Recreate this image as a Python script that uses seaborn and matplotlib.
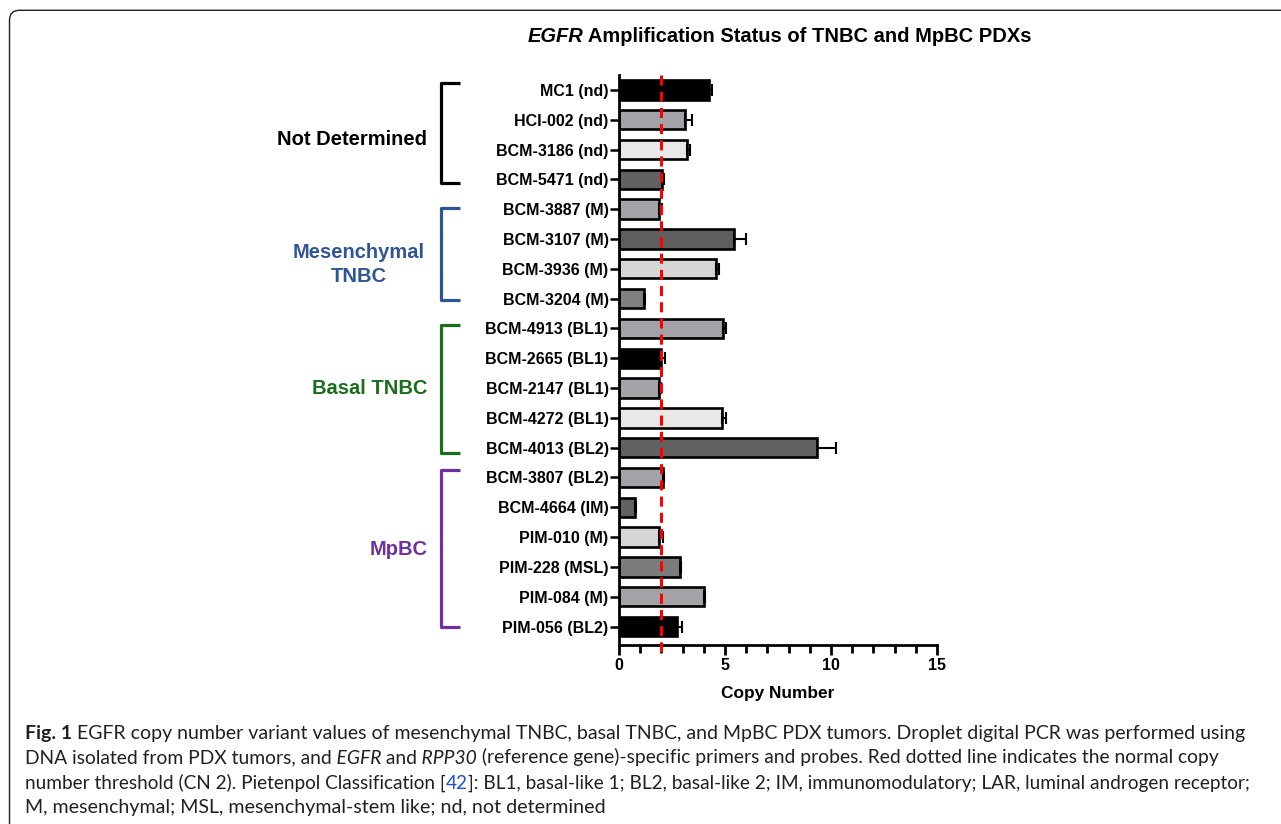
import numpy as np
import pandas as pd
import matplotlib
matplotlib.use('Agg')
import matplotlib.pyplot as plt
import matplotlib.transforms as mtransforms
from matplotlib.patches import FancyBboxPatch
import seaborn as sns

# Datos
samples = ['MC1 (nd)', 'HCI-002 (nd)', 'BCM-3186 (nd)', 'BCM-5471 (nd)',
           'BCM-3887 (M)', 'BCM-3107 (M)', 'BCM-3936 (M)', 'BCM-3204 (M)',
           'BCM-4913 (BL1)', 'BCM-2665 (BL1)', 'BCM-2147 (BL1)', 'BCM-4272 (BL1)',
           'BCM-4013 (BL2)', 'BCM-3807 (BL2)', 'BCM-4664 (IM)', 'PIM-010 (M)',
           'PIM-228 (MSL)', 'PIM-084 (M)', 'PIM-056 (BL2)']
copy_number = [4.24, 3.10, 3.22, 2.04, 1.91, 5.42, 4.59, 1.18,
               4.92, 1.96, 1.88, 4.84, 9.35, 2.07, 0.74, 1.91,
               2.86, 4.01, 2.75]
sem = [0.14, 0.33, 0.13, 0.09, 0.12, 0.55, 0.12, 0.05,
       0.12, 0.19, 0.08, 0.19, 0.87, 0.05, 0.07, 0.16,
       0.05, 0.04, 0.20]
bar_colors = ['#000000', '#a2a2a8', '#e8e8e8', '#616161',
              '#a2a2a8', '#5e5e5e', '#d6d6d6', '#808080',
              '#a2a2a8', '#000000', '#a2a2a8', '#e8e8e8',
              '#616161', '#a2a2a8', '#616161', '#d6d6d6',
              '#7c7c7c', '#a2a2a8', '#000000']
groups = ['Not Determined', 'Mesenchymal\nTNBC', 'Basal TNBC', 'MpBC']
group_sizes = [4, 4, 5, 6]
group_colors = ['#000000', '#2f5597', '#1b6e1b', '#7030a0']
threshold = 2

df = pd.DataFrame({'sample': samples, 'copy': copy_number, 'sem': sem})

sns.set_style('ticks', {'axes.edgecolor': 'black', 'text.color': 'black',
                        'axes.labelcolor': 'black', 'xtick.color': 'black',
                        'ytick.color': 'black'})
plt.rcParams['font.family'] = ['Liberation Sans', 'DejaVu Sans']

W, H = 1281, 824
fig = plt.figure(figsize=(W / 100, H / 100), dpi=100)
ax = fig.add_axes([619 / W, 1 - 645 / H, 318 / W, 570 / H])

sns.barplot(data=df, x='copy', y='sample', hue='sample', palette=bar_colors,
            legend=False, width=0.65, edgecolor='black', linewidth=1.9,
            errorbar=None, ax=ax, zorder=2)

pos = np.arange(len(samples))
ax.errorbar(df['copy'], pos, xerr=[np.zeros(len(pos)), df['sem']], fmt='none',
            ecolor='black', elinewidth=1.5, capsize=4, capthick=1.5, zorder=3)

ax.set_xlim(0, 15)
ax.set_ylim(18.62, -0.5)
ax.plot([threshold, threshold], [-0.5, 18.86], color='red', lw=2.2,
        linestyle=(0, (3.3, 2)), clip_on=False, zorder=5)

sns.despine(ax=ax)
for sp in ['left', 'bottom']:
    ax.spines[sp].set_linewidth(2)
    ax.spines[sp].set_color('black')
ax.set_xticks([0, 5, 10, 15])
ax.set_xticks(np.arange(0, 16, 1), minor=True)
ax.tick_params(axis='x', which='major', length=7.5, width=2, labelsize=11.5,
               pad=2, color='black', labelcolor='black')
ax.tick_params(axis='x', which='minor', length=5.5, width=2, color='black')
ax.tick_params(axis='y', length=6.5, width=1.8, labelsize=11.5, pad=1,
               color='black', labelcolor='black')
for lab in ax.get_xticklabels() + ax.get_yticklabels():
    lab.set_fontweight('bold')
ax.set_ylabel('')
ax.set_xlabel('Copy Number', fontsize=12.4, fontweight='bold', labelpad=9,
              color='black')

# Corchetes de grupos
trans = mtransforms.blended_transform_factory(fig.transFigure, ax.transData)
bracket_pad = [(0.23, 0.12), (0.04, 0.05), (0.11, 0.18), (0.25, 0.0)]
label_shift = [0.18, 0.36, 0.03, -0.1]
label_x = [427, 359, 427, 428]
label_ha = ['right', 'center', 'right', 'right']
start = 0
for g, n, c, pad, sh, lx, ha in zip(groups, group_sizes, group_colors,
                                     bracket_pad, label_shift, label_x, label_ha):
    top = start - pad[0]
    bot = start + n - 1 + pad[1]
    ax.plot([460 / W, 441 / W, 441 / W, 460 / W], [top, top, bot, bot],
            color=c, lw=2.3, transform=trans, clip_on=False,
            solid_joinstyle='round', solid_capstyle='butt')
    mid = start + (n - 1) / 2 + sh
    ax.text(lx / W, mid, g, transform=trans, ha=ha, va='center',
            multialignment='center', fontsize=14.5, fontweight='bold',
            color=c, linespacing=1.3)
    start += n

# Titulo
t = fig.text(527.5 / W, 1 - 37 / H, 'EGFR', fontsize=14.5, fontweight='bold',
             fontstyle='italic', va='center', ha='left', color='black')
fig.canvas.draw()
ax.annotate(' Amplification Status of TNBC and MpBC PDXs', xy=(1, 0), xycoords=t,
            va='bottom', ha='left', fontsize=14.5, fontweight='bold',
            color='black', annotation_clip=False)

# Marco
frame = FancyBboxPatch((9.5, -60), 1500, H - 10.3 + 60,
                       boxstyle='round,pad=0,rounding_size=10',
                       fill=False, edgecolor='#222222', lw=1.0,
                       transform=None, figure=fig)
fig.patches.append(frame)

# Leyenda de la figura
cap_font = ['Lato', 'DejaVu Sans']
cap_sizes = [14.0, 13.85, 13.66, 14.1]
cap_col = '#231f20'
lines = [
    [('Fig. 1', 'bold', 'normal', cap_col),
     (' EGFR copy number variant values of mesenchymal TNBC, basal TNBC, and MpBC PDX tumors. '
      'Droplet digital PCR was performed using', 'normal', 'normal', cap_col)],
    [('DNA isolated from PDX tumors, and', 'normal', 'normal', cap_col),
     (' EGFR', 'normal', 'italic', cap_col),
     (' and', 'normal', 'normal', cap_col),
     (' RPP30', 'normal', 'italic', cap_col),
     (' (reference gene)-specific primers and probes. Red dotted line indicates the normal copy',
      'normal', 'normal', cap_col)],
    [('number threshold (CN 2). Pietenpol Classification [', 'normal', 'normal', cap_col),
     ('42', 'normal', 'normal', '#1a4fd6'),
     (']: BL1, basal-like 1; BL2, basal-like 2; IM, immunomodulatory; LAR, luminal androgen receptor;',
      'normal', 'normal', cap_col)],
    [('M, mesenchymal; MSL, mesenchymal-stem like; nd, not determined',
      'normal', 'normal', cap_col)],
]
line_y = [733, 758, 783, 808]
for segs, yy, fs in zip(lines, line_y, cap_sizes):
    s, wt, st, col = segs[0]
    prev = fig.text(25 / W, 1 - yy / H, s, family=cap_font, fontsize=fs,
                    fontweight=wt, fontstyle=st, color=col, va='center', ha='left')
    for s, wt, st, col in segs[1:]:
        prev = ax.annotate(s, xy=(1, 0), xycoords=prev, va='bottom', ha='left',
                           family=cap_font, fontsize=fs, fontweight=wt,
                           fontstyle=st, color=col, annotation_clip=False)

fig.savefig('out.png', dpi=100)
